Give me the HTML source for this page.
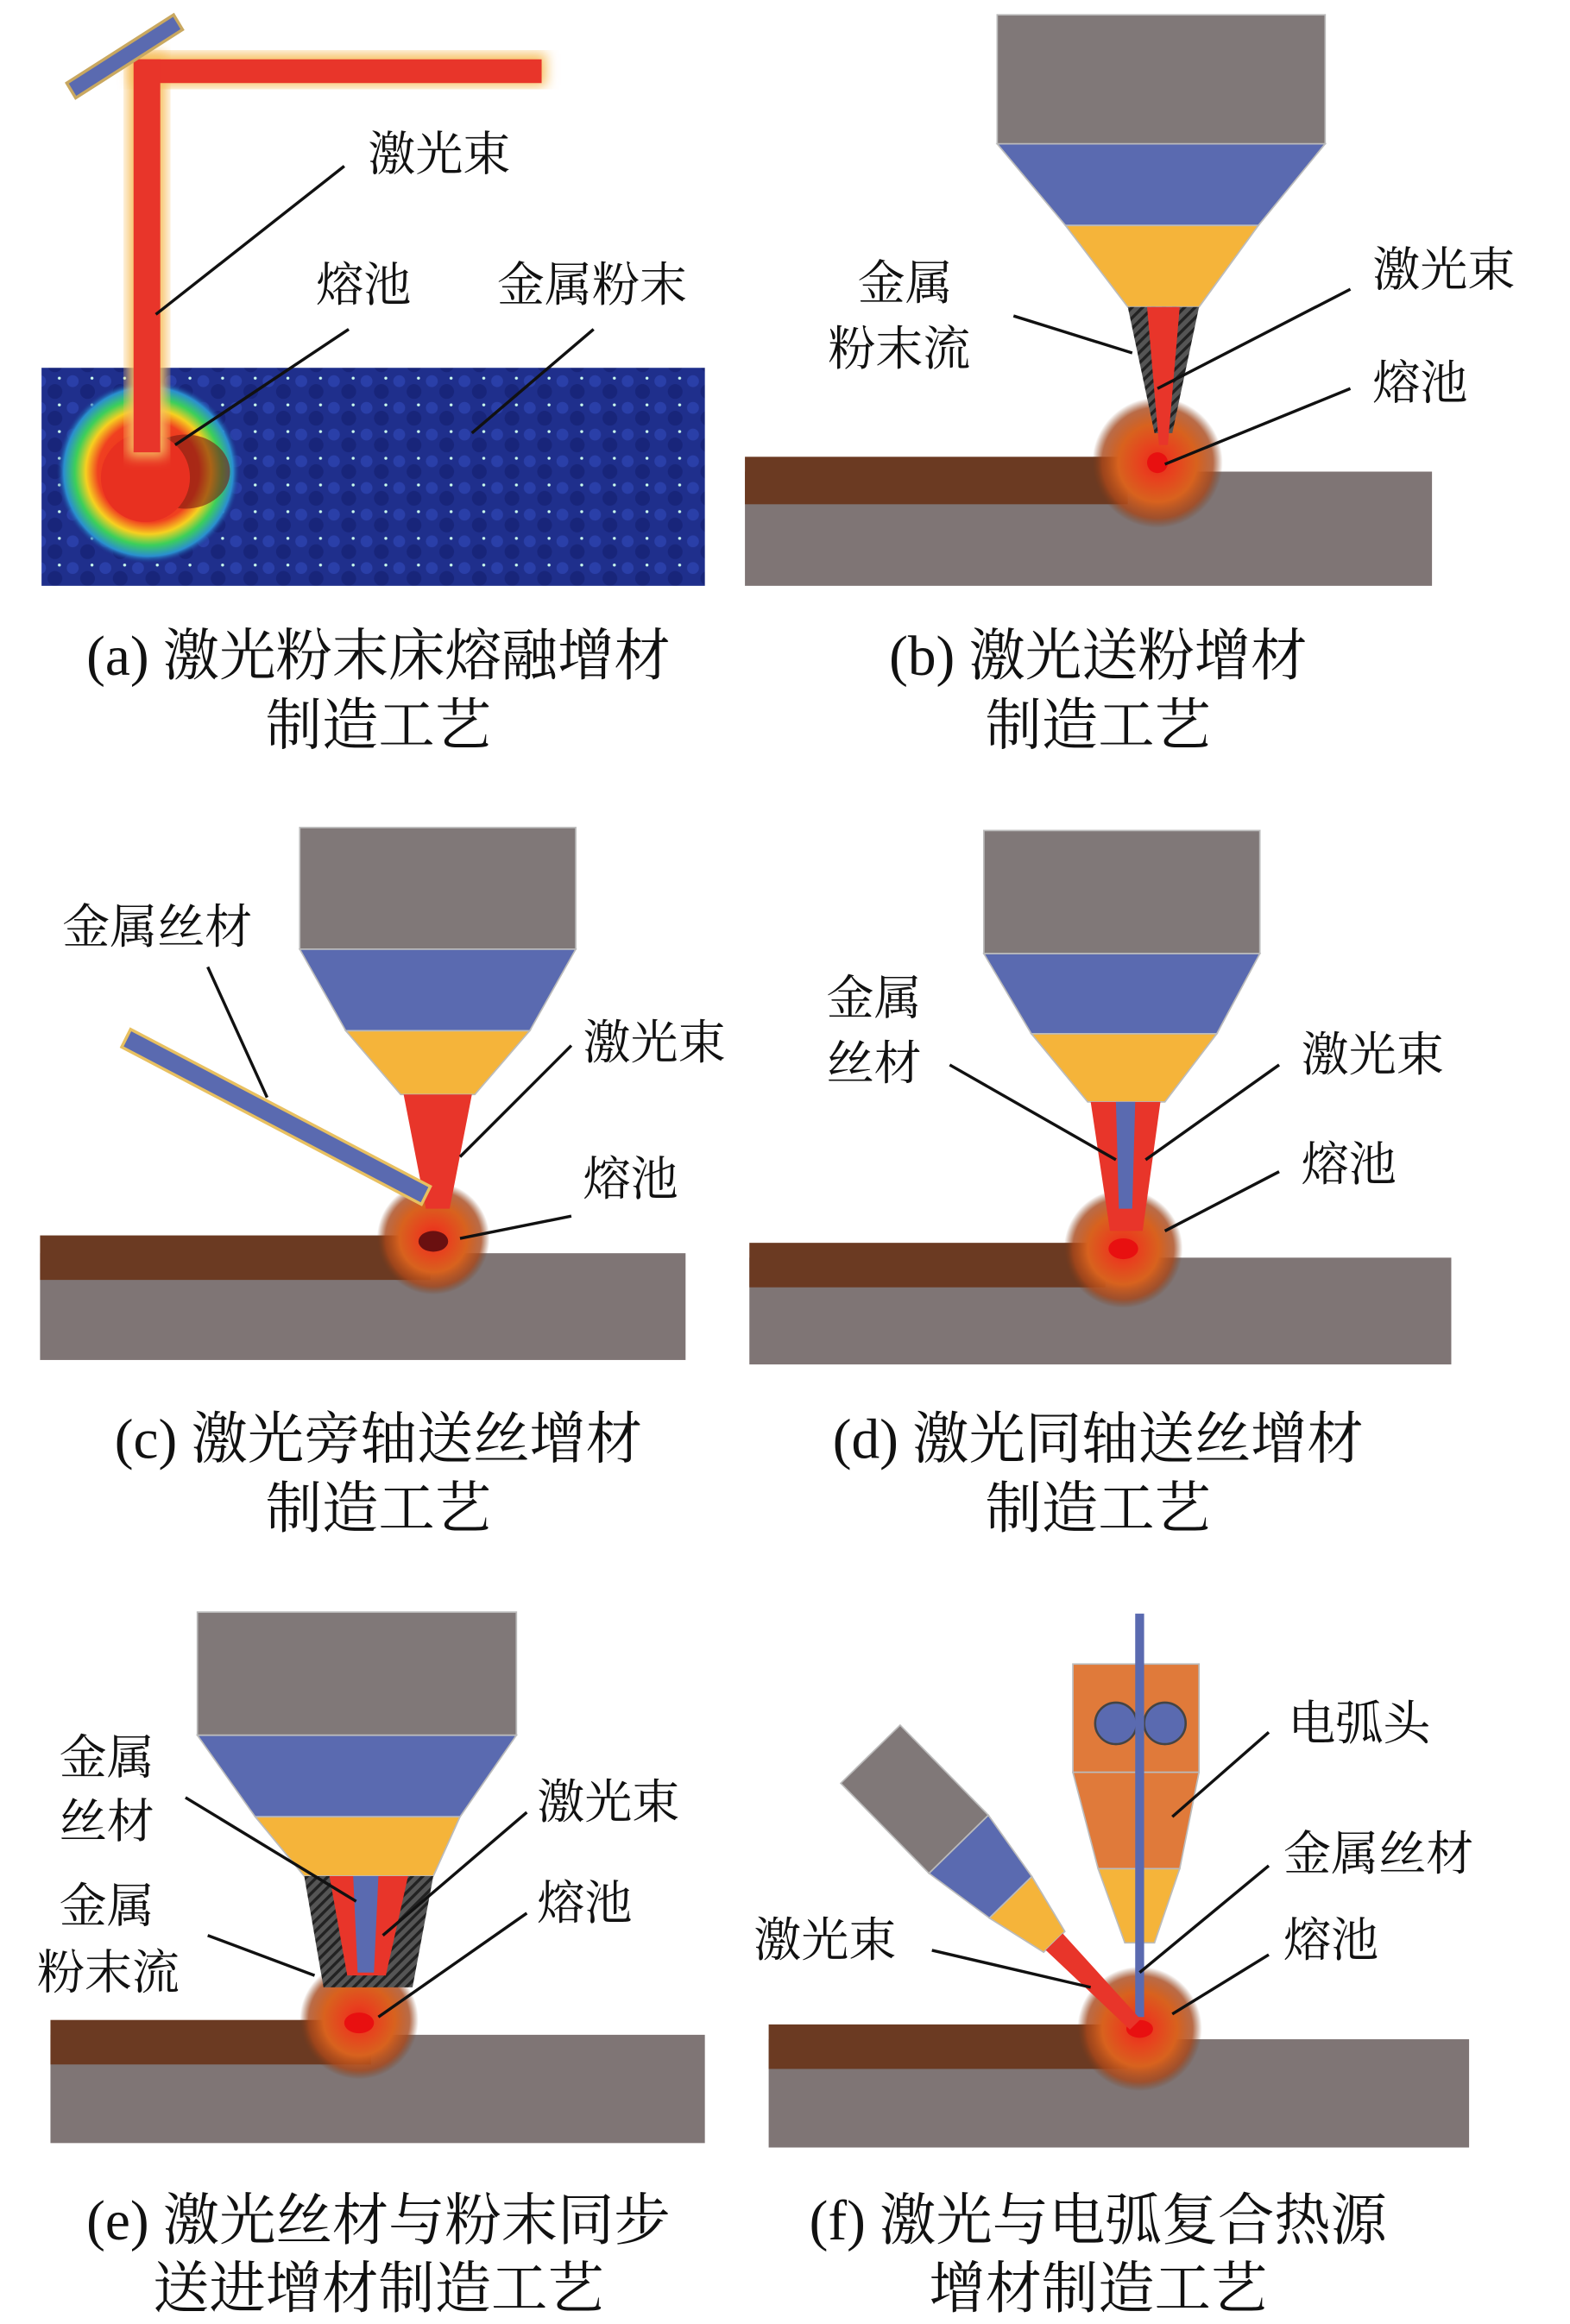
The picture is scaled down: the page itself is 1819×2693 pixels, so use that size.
<!DOCTYPE html>
<html><head><meta charset="utf-8"><style>
html,body{margin:0;padding:0;background:#fff}
svg{display:block}
text{font-family:"Liberation Serif","Noto Serif CJK SC",serif;fill:#111}
.l{font-size:32px}
.c{font-size:38px;text-anchor:middle}
line{stroke:#111;stroke-width:2}
</style></head><body>
<svg width="1819" height="2693" viewBox="0 0 1058 1567" preserveAspectRatio="none" xmlns="http://www.w3.org/2000/svg">
<defs>
<radialGradient id="pool"><stop offset="0" stop-color="#e8281a"/><stop offset="0.25" stop-color="#e8401e"/><stop offset="0.6" stop-color="#d8621e"/><stop offset="0.85" stop-color="#a8471a" stop-opacity="0.8"/><stop offset="1" stop-color="#7a3a18" stop-opacity="0"/></radialGradient>
<radialGradient id="pa"><stop offset="0" stop-color="#e82a18"/><stop offset="0.55" stop-color="#f04020"/><stop offset="0.68" stop-color="#f7d020"/><stop offset="0.8" stop-color="#3ccf5a"/><stop offset="0.92" stop-color="#2a8fd0"/><stop offset="1" stop-color="#1a2e8a" stop-opacity="0"/></radialGradient>
<pattern id="hatch" width="5" height="5" patternUnits="userSpaceOnUse" patternTransform="rotate(45)"><rect width="5" height="5" fill="#555"/><rect width="2" height="5" fill="#222"/></pattern>
<pattern id="dots" width="22" height="18" patternUnits="userSpaceOnUse"><rect width="22" height="18" fill="#1f2f8c"/><circle cx="5" cy="5" r="4" fill="#2a3fa8"/><circle cx="15" cy="12" r="5" fill="#18257a"/><circle cx="18" cy="3" r="1" fill="#cfe"/></pattern>
<filter id="gl"><feGaussianBlur stdDeviation="4"/></filter>
</defs>

<!-- Panel a -->
<rect x="28" y="248" width="447" height="147" fill="url(#dots)"/>
<circle cx="100" cy="318" r="62" fill="url(#pa)"/>
<ellipse cx="125" cy="318" rx="30" ry="25" fill="#7a1a10" opacity="0.6"/>
<circle cx="98" cy="322" r="30" fill="#e83020"/>
<rect x="88" y="36" width="280" height="22" fill="#f7c060" filter="url(#gl)"/>
<rect x="86" y="36" width="26" height="272" fill="#f7c060" filter="url(#gl)"/>
<rect x="92" y="40" width="273" height="16" fill="#e8352a"/>
<rect x="90" y="40" width="18" height="265" fill="#e8352a"/>
<polygon points="45,56 117,10 123,20 51,66" fill="#5a6ab0" stroke="#c9a860" stroke-width="2"/>
<text class="l" x="248" y="115">激光束</text>
<text class="l" x="213" y="203">熔池</text>
<text class="l" x="335" y="203">金属粉末</text>
<line x1="232" y1="112" x2="105" y2="212"/>
<line x1="235" y1="222" x2="118" y2="300"/>
<line x1="400" y1="222" x2="318" y2="292"/>
<text class="c" x="255" y="455">(a) 激光粉末床熔融增材</text>
<text class="c" x="255" y="502">制造工艺</text>

<!-- Panel b -->
<rect x="502" y="318" width="463" height="77" fill="#7f7575"/>
<rect x="502" y="308" width="258" height="32" fill="#6b3a22"/>
<circle cx="780" cy="312" r="44" fill="url(#pool)"/>
<circle cx="780" cy="312" r="7" fill="#e81010"/>
<rect x="672" y="10" width="221" height="87" fill="#807878" stroke="#bbb"/>
<polygon points="672,97 893,97 848,152 718,152" fill="#5a6ab0" stroke="#bbb"/>
<polygon points="718,152 848,152 808,207 760,207" fill="#f5b43a" stroke="#bbb"/>
<polygon points="760,207 808,207 790,292 778,292" fill="url(#hatch)"/>
<polygon points="773,207 795,207 787,300 781,300" fill="#e8352a"/>
<text class="l" x="578" y="202">金属</text>
<text class="l" x="558" y="246">粉末流</text>
<text class="l" x="925" y="193">激光束</text>
<text class="l" x="925" y="269">熔池</text>
<line x1="683" y1="213" x2="763" y2="238"/>
<line x1="910" y1="195" x2="780" y2="262"/>
<line x1="910" y1="262" x2="785" y2="313"/>
<text class="c" x="740" y="455">(b) 激光送粉增材</text>
<text class="c" x="740" y="502">制造工艺</text>

<!-- Panel c -->
<rect x="27" y="845" width="435" height="72" fill="#7f7575"/>
<rect x="27" y="833" width="263" height="30" fill="#6b3a22"/>
<circle cx="292" cy="835" r="38" fill="url(#pool)"/>
<ellipse cx="292" cy="837" rx="10" ry="7" fill="#6a1010"/>
<rect x="202" y="558" width="186" height="82" fill="#807878" stroke="#bbb"/>
<polygon points="202,640 388,640 357,695 233,695" fill="#5a6ab0" stroke="#bbb"/>
<polygon points="233,695 357,695 320,738 270,738" fill="#f5b43a" stroke="#bbb"/>
<polygon points="272,738 318,738 303,815 287,815" fill="#e8352a"/>
<polygon points="82,706 88,694 290,800 284,812" fill="#5a6ab0" stroke="#e8c060" stroke-width="2"/>
<text class="l" x="42" y="636">金属丝材</text>
<text class="l" x="393" y="714">激光束</text>
<text class="l" x="393" y="806">熔池</text>
<line x1="140" y1="652" x2="180" y2="740"/>
<line x1="385" y1="705" x2="310" y2="780"/>
<line x1="385" y1="820" x2="310" y2="835"/>
<text class="c" x="255" y="983">(c) 激光旁轴送丝增材</text>
<text class="c" x="255" y="1030">制造工艺</text>

<!-- Panel d -->
<rect x="505" y="848" width="473" height="72" fill="#7f7575"/>
<rect x="505" y="838" width="240" height="30" fill="#6b3a22"/>
<circle cx="757" cy="842" r="40" fill="url(#pool)"/>
<ellipse cx="757" cy="842" rx="10" ry="7" fill="#e81010"/>
<rect x="663" y="560" width="186" height="83" fill="#807878" stroke="#bbb"/>
<polygon points="663,643 849,643 820,697 695,697" fill="#5a6ab0" stroke="#bbb"/>
<polygon points="695,697 820,697 785,743 733,743" fill="#f5b43a" stroke="#bbb"/>
<polygon points="735,743 782,743 770,830 748,830" fill="#e8352a"/>
<polygon points="752,743 765,743 763,815 754,815" fill="#5a6ab0"/>
<text class="l" x="557" y="684">金属</text>
<text class="l" x="557" y="728">丝材</text>
<text class="l" x="877" y="722">激光束</text>
<text class="l" x="877" y="796">熔池</text>
<line x1="640" y1="718" x2="752" y2="782"/>
<line x1="862" y1="718" x2="772" y2="782"/>
<line x1="862" y1="790" x2="785" y2="830"/>
<text class="c" x="740" y="983">(d) 激光同轴送丝增材</text>
<text class="c" x="740" y="1030">制造工艺</text>

<!-- Panel e -->
<rect x="34" y="1372" width="441" height="73" fill="#7f7575"/>
<rect x="34" y="1362" width="216" height="30" fill="#6b3a22"/>
<circle cx="242" cy="1362" r="40" fill="url(#pool)"/>
<ellipse cx="242" cy="1364" rx="10" ry="7" fill="#e81010"/>
<rect x="133" y="1087" width="215" height="83" fill="#807878" stroke="#bbb"/>
<polygon points="133,1170 348,1170 310,1225 172,1225" fill="#5a6ab0" stroke="#bbb"/>
<polygon points="172,1225 310,1225 292,1265 205,1265" fill="#f5b43a" stroke="#bbb"/>
<polygon points="205,1265 292,1265 278,1340 218,1340" fill="url(#hatch)"/>
<polygon points="222,1265 275,1265 260,1332 234,1332" fill="#e8352a"/>
<polygon points="238,1265 255,1265 252,1330 241,1330" fill="#5a6ab0"/>
<text class="l" x="40" y="1196">金属</text>
<text class="l" x="40" y="1239">丝材</text>
<text class="l" x="40" y="1296">金属</text>
<text class="l" x="25" y="1341">粉末流</text>
<text class="l" x="362" y="1226">激光束</text>
<text class="l" x="362" y="1294">熔池</text>
<line x1="125" y1="1212" x2="240" y2="1282"/>
<line x1="140" y1="1305" x2="212" y2="1332"/>
<line x1="355" y1="1222" x2="258" y2="1305"/>
<line x1="355" y1="1290" x2="255" y2="1360"/>
<text class="c" x="255" y="1510">(e) 激光丝材与粉末同步</text>
<text class="c" x="255" y="1556">送进增材制造工艺</text>

<!-- Panel f -->
<rect x="518" y="1375" width="472" height="73" fill="#7f7575"/>
<rect x="518" y="1365" width="242" height="30" fill="#6b3a22"/>
<circle cx="768" cy="1368" r="42" fill="url(#pool)"/>
<ellipse cx="768" cy="1368" rx="9" ry="6" fill="#e81010"/>
<rect x="723" y="1122" width="85" height="73" fill="#e07a3a" stroke="#bbb"/>
<polygon points="723,1195 808,1195 795,1260 740,1260" fill="#e07a3a" stroke="#bbb"/>
<polygon points="740,1260 795,1260 778,1310 758,1310" fill="#f5b43a" stroke="#bbb"/>
<circle cx="752" cy="1162" r="14" fill="#5a6ab0" stroke="#444" stroke-width="1.5"/>
<circle cx="785" cy="1162" r="14" fill="#5a6ab0" stroke="#444" stroke-width="1.5"/>
<rect x="765" y="1088" width="6" height="272" fill="#5a6ab0"/>
<g transform="translate(765,1365) rotate(45.6)">
<rect x="-255" y="-28" width="85" height="56" fill="#807878" stroke="#bbb"/>
<polygon points="-170,-28 -120,-20 -120,20 -170,28" fill="#5a6ab0" stroke="#bbb"/>
<polygon points="-120,-20 -78,-10 -78,10 -120,20" fill="#f5b43a" stroke="#bbb"/>
<polygon points="-78,-8 0,-5 0,5 -78,8" fill="#e8352a"/>
</g>
<text class="l" x="868" y="1173">电弧头</text>
<text class="l" x="865" y="1261">金属丝材</text>
<text class="l" x="865" y="1319">熔池</text>
<text class="l" x="508" y="1319">激光束</text>
<line x1="855" y1="1168" x2="790" y2="1225"/>
<line x1="855" y1="1258" x2="768" y2="1330"/>
<line x1="855" y1="1318" x2="790" y2="1358"/>
<line x1="628" y1="1315" x2="735" y2="1340"/>
<text class="c" x="740" y="1510">(f) 激光与电弧复合热源</text>
<text class="c" x="740" y="1556">增材制造工艺</text>
</svg>
</body></html>
